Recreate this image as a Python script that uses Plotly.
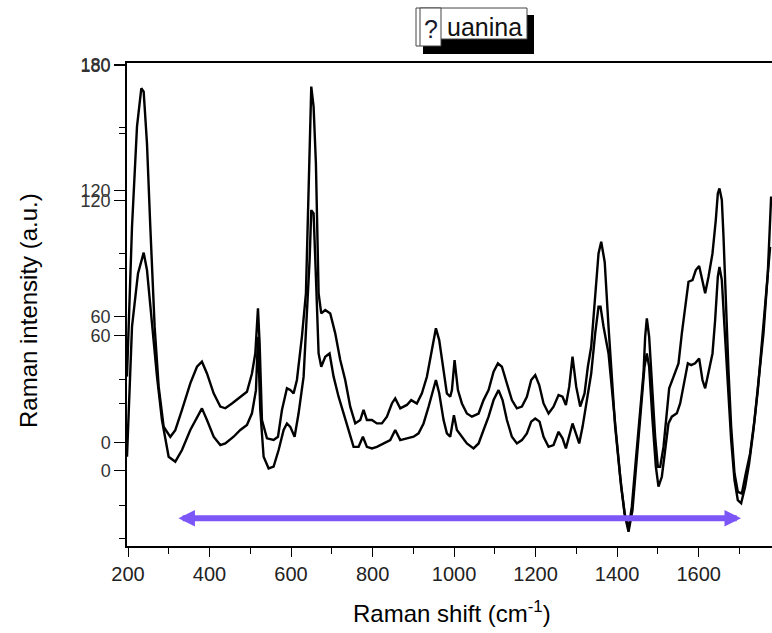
import plotly.graph_objects as go

# ---- data ----
shift_a = [197.5, 209.8, 222.0, 232.6, 238.4, 246.5, 254.7, 265.3, 275.2, 287.4, 303.8, 316.0, 332.4, 352.8,
           369.2, 381.4, 393.7, 410.1, 426.4, 438.7, 455.0, 475.5, 491.8, 504.1, 512.3, 518.8, 522.9, 528.6,
           540.9, 557.2, 567.9, 577.7, 589.9, 598.1, 606.2, 614.4, 626.7, 636.5, 643.0, 649.6, 655.3, 661.0,
           667.6, 674.1, 683.9, 696.2, 708.4, 720.7, 732.9, 745.2, 757.5, 769.8, 777.9, 786.1, 798.4, 810.6,
           822.9, 835.2, 847.4, 855.6, 867.9, 884.2, 894.8, 908.7, 921.0, 933.3, 945.5, 955.4, 963.5, 974.2,
           982.3, 990.5, 994.7, 1001.2, 1009.4, 1019.2, 1031.4, 1043.7, 1060.1, 1072.3, 1084.6, 1096.9, 1107.5,
           1117.3, 1129.6, 1141.8, 1154.1, 1166.4, 1178.6, 1189.2, 1199.1, 1208.9, 1219.5, 1231.8, 1244.0,
           1256.3, 1266.1, 1274.3, 1282.5, 1290.6, 1299.6, 1309.4, 1320.1, 1328.2, 1336.4, 1344.6, 1354.4,
           1361.0, 1369.6, 1378.9, 1387.1, 1395.2, 1407.5, 1418.1, 1428.0, 1436.1, 1445.9, 1456.5, 1464.7,
           1468.8, 1472.9, 1478.6, 1485.2, 1493.3, 1499.9, 1505.6, 1513.8, 1522.0, 1527.7, 1538.3, 1550.6,
           1558.8, 1567.0, 1575.1, 1584.9, 1593.1, 1601.3, 1609.4, 1616.0, 1624.2, 1634.0, 1642.1, 1647.1,
           1651.1, 1656.9, 1661.0, 1666.7, 1673.2, 1679.8, 1688.0, 1696.1, 1706.0, 1715.8, 1726.3, 1737.0,
           1748.4, 1759.1, 1769.7, 1777.9]
intensity_a = [31.5, 102.9, 150.6, 168.9, 167.3, 142.7, 102.9, 55.3, 26.7, 7.6, 2.8, 6.0, 15.6, 28.3,
               36.2, 38.6, 33.0, 23.5, 17.2, 16.4, 18.7, 21.9, 24.3, 33.0, 42.6, 64.0, 47.3, 10.8,
               2.1, 1.3, 2.8, 15.6, 25.9, 25.1, 23.5, 29.9, 50.5, 71.2, 123.6, 169.7, 160.2, 133.1,
               71.2, 61.6, 63.2, 61.6, 52.1, 39.4, 29.9, 17.2, 9.2, 10.8, 15.6, 10.8, 10.8, 9.2,
               9.2, 12.4, 18.7, 21.1, 16.4, 18.0, 20.3, 18.7, 23.5, 31.4, 44.2, 54.5, 48.9, 33.0,
               23.5, 21.9, 25.1, 39.4, 25.1, 18.7, 13.9, 12.4, 13.9, 20.3, 25.1, 33.8, 37.8,
               36.2, 28.3, 20.3, 16.4, 17.2, 21.9, 29.9, 32.2, 27.5, 18.7, 13.9, 17.2,
               22.7, 21.9, 18.0, 26.7, 41.0, 26.7, 17.2, 23.5, 36.2, 45.7, 66.4, 90.2,
               95.8, 86.0, 55.3, 29.9, 7.6, -16.2, -33.7, -40.9, -30.5, -8.3, 14.0, 33.0,
               50.5, 59.2, 50.5, 29.9, 2.8, -11.5, -11.5, -2.0, 15.6, 25.9, 31.4, 37.8,
               52.1, 63.2, 76.7, 77.5, 82.3, 84.2, 77.5, 71.2, 79.1, 90.2, 106.1, 118.8,
               121.2, 115.7, 98.2, 66.4, 34.6, 7.6, -14.6, -23.4, -24.2, -14.6, -5.1, 10.8,
               31.4, 52.1, 80.7, 117.3]

shift_b = [197.5, 209.8, 224.5, 238.4, 246.5, 258.8, 271.1, 283.3, 299.7, 316.0, 332.4, 352.8, 369.2,
           381.4, 393.7, 410.1, 426.4, 438.7, 459.1, 475.5, 491.8, 504.1, 513.9, 518.8, 524.5, 532.7,
           545.0, 557.2, 569.5, 581.8, 589.9, 598.1, 608.7, 618.5, 630.8, 639.8, 645.5, 649.6, 655.3,
           661.0, 667.6, 674.1, 683.9, 694.5, 704.4, 716.6, 728.9, 741.1, 753.4, 765.7, 776.3, 786.1,
           798.4, 810.6, 827.0, 843.4, 855.6, 867.9, 884.2, 900.6, 912.8, 925.1, 937.4, 948.0, 955.4,
           963.5, 974.2, 982.3, 990.5, 994.7, 999.6, 1006.9, 1019.2, 1031.4, 1047.8, 1060.1, 1072.3,
           1084.6, 1096.9, 1109.1, 1118.9, 1129.6, 1141.8, 1154.1, 1166.4, 1178.6, 1189.2, 1199.1,
           1209.7, 1219.5, 1231.8, 1244.0, 1256.3, 1266.1, 1274.3, 1282.5, 1290.6, 1298.8, 1307.0,
           1315.2, 1325.8, 1336.4, 1346.2, 1354.4, 1359.3, 1366.7, 1378.9, 1388.7, 1399.3, 1409.9,
           1419.8, 1428.0, 1437.7, 1448.4, 1459.0, 1467.2, 1472.9, 1478.6, 1486.8, 1495.0, 1501.5,
           1509.7, 1517.9, 1526.0, 1534.2, 1546.5, 1554.7, 1562.8, 1573.5, 1581.6, 1591.4, 1601.3,
           1609.4, 1616.0, 1625.8, 1634.0, 1640.5, 1647.1, 1651.1, 1656.9, 1663.4, 1671.6, 1679.8,
           1688.0, 1696.1, 1704.3, 1714.1, 1723.9, 1734.5, 1745.2, 1755.0, 1764.8, 1775.4]
intensity_b = [6.2, 64.0, 87.7, 96.9, 89.2, 64.0, 41.8, 22.5, 6.2, 4.0, 9.2, 18.1, 24.0,
               27.7, 22.5, 15.1, 11.4, 12.1, 15.1, 18.1, 20.3, 25.5, 35.8, 59.5, 26.9, 6.2,
               1.0, 1.8, 9.2, 18.1, 21.0, 19.5, 15.1, 25.5, 41.8, 71.4, 93.6, 115.8, 114.4,
               86.2, 52.1, 46.2, 50.6, 52.1, 41.8, 32.9, 25.5, 18.1, 10.6, 10.6, 15.1, 10.6,
               9.9, 10.6, 12.1, 13.6, 18.1, 13.6, 14.4, 15.1, 16.6, 21.0, 28.4, 35.8, 40.3,
               34.4, 22.5, 16.6, 15.1, 19.5, 24.7, 18.1, 15.1, 12.1, 9.9, 12.1, 18.1,
               24.0, 31.4, 35.8, 31.4, 22.5, 15.1, 12.1, 13.6, 16.6, 21.8, 23.2,
               21.8, 15.1, 10.6, 11.4, 17.3, 14.4, 9.9, 15.1, 21.0, 16.6, 12.1,
               19.5, 31.4, 43.2, 61.0, 72.9, 72.9, 64.0, 52.1, 34.3, 12.1, -7.1,
               -20.5, -27.1, -17.5, 4.7, 28.4, 46.2, 52.1, 46.2, 22.5, 1.8, -7.1,
               -2.7, 9.2, 21.0, 24.0, 25.5, 29.9, 37.3, 47.7, 46.9, 47.7, 49.9,
               40.3, 36.6, 44.7, 52.1, 66.9, 86.2, 90.6, 84.7, 64.0, 37.3, 13.6,
               -4.2, -13.1, -14.5, -7.1, 3.2, 18.1, 35.8, 56.6, 75.8, 99.5]

x_tick_vals = [200, 400, 600, 800, 1000, 1200, 1400, 1600]
y_tick_vals = [0, 60, 120, 180]
arrow_from = 320
arrow_to = 1704
arrow_level = -36

title_mark = "?"
title_rest = "uanina"
x_title = "Raman shift (cm<sup>-1</sup>)"
y_title = "Raman intensity (a.u.)"

# ---- layout geometry (pixels) ----
W, H = 772, 633
PL, PR, PT, PB = 127, 772, 63, 546


def px(x):
    return (x - PL) / (PR - PL)


def py(y):
    return (PB - y) / (PB - PT)


FONT = "Liberation Sans, Arial, sans-serif"

fig = go.Figure()
fig.add_trace(go.Scatter(x=shift_a, y=intensity_a, mode="lines",
                         line=dict(color="black", width=2.4), yaxis="y", showlegend=False))
fig.add_trace(go.Scatter(x=shift_b, y=intensity_b, mode="lines",
                         line=dict(color="black", width=2.4), yaxis="y2", showlegend=False))

common_y = dict(tickvals=y_tick_vals, ticks="outside", ticklen=11, tickwidth=1.3, tickcolor="black",
                showline=True, linecolor="black", linewidth=1.5, showgrid=False, zeroline=False,
                tickfont=dict(family=FONT, size=18, color="#333"),
                minor=dict(dtick=30, tick0=0, ticks="outside", ticklen=6, tickcolor="black", tickwidth=1.3))

fig.update_layout(
    width=W, height=H,
    margin=dict(l=PL, r=W - PR, t=PT, b=H - PB),
    paper_bgcolor="white", plot_bgcolor="white",
    font=dict(family=FONT, color="#222"),
    xaxis=dict(range=[197.5, 1780], tickvals=x_tick_vals, ticks="outside", ticklen=9, tickwidth=1.3,
               tickcolor="black", showline=True, mirror=True, linecolor="black", linewidth=1.5,
               showgrid=False, zeroline=False,
               tickfont=dict(family=FONT, size=20, color="#222"),
               minor=dict(dtick=100, tick0=200, ticks="outside", ticklen=6, tickcolor="black", tickwidth=1.3)),
    yaxis=dict(range=[-49.23, 180.95], **common_y),
    yaxis2=dict(range=[-33.47, 181.2], overlaying="y", side="left", anchor="x", **common_y),
)

# axis titles
fig.add_annotation(text=x_title, xref="paper", yref="paper", x=px(452), y=py(612),
                   xanchor="center", yanchor="middle", showarrow=False,
                   font=dict(family=FONT, size=24, color="#000"))
fig.add_annotation(text=y_title, xref="paper", yref="paper", x=px(28), y=py(310),
                   xanchor="center", yanchor="middle", textangle=-90, showarrow=False,
                   font=dict(family=FONT, size=24, color="#000"))

# purple double arrow
fig.add_annotation(x=arrow_to, y=arrow_level, ax=arrow_from, ay=arrow_level,
                   xref="x", yref="y", axref="x", ayref="y", text="", showarrow=True,
                   arrowside="end+start", arrowhead=2, startarrowhead=2,
                   arrowwidth=6, arrowsize=0.55, startarrowsize=0.55, arrowcolor="#7c56f7",
                   standoff=0, startstandoff=0)

# title box with shadow
shapes = [
    dict(type="rect", xref="paper", yref="paper", x0=px(423), x1=px(534), y0=py(54), y1=py(15),
         fillcolor="black", line=dict(width=0)),
    dict(type="rect", xref="paper", yref="paper", x0=px(420), x1=px(527), y0=py(39), y1=py(8),
         fillcolor="white", line=dict(color="#444", width=1)),
    dict(type="rect", xref="paper", yref="paper", x0=px(416), x1=px(441), y0=py(46), y1=py(8),
         fillcolor="white", line=dict(color="#444", width=1)),
    dict(type="line", xref="paper", yref="paper", x0=px(420), x1=px(420), y0=py(46), y1=py(8),
         line=dict(color="#444", width=1)),
]
fig.update_layout(shapes=shapes)
fig.add_annotation(text=title_mark, xref="paper", yref="paper", x=px(431), y=py(29),
                   xanchor="center", yanchor="middle", showarrow=False,
                   font=dict(family=FONT, size=25, color="#1a1a2e"))
fig.add_annotation(text=title_rest, xref="paper", yref="paper", x=px(445), y=py(27),
                   xanchor="left", yanchor="middle", showarrow=False,
                   font=dict(family=FONT, size=25, color="#111"))

fig.write_html("out.html")
